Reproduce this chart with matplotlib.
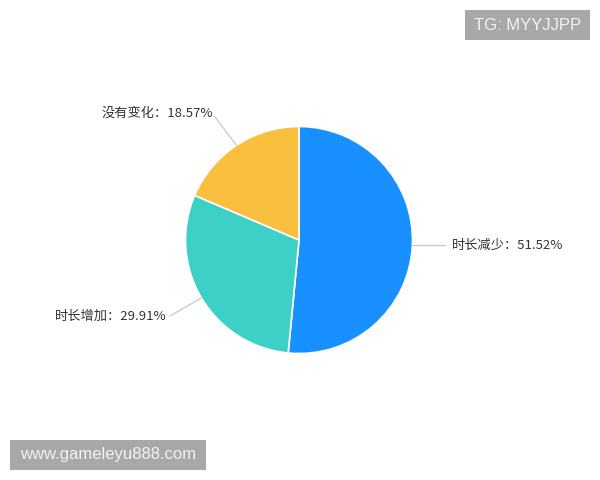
import matplotlib
matplotlib.use("Agg")
import matplotlib.pyplot as plt
from matplotlib.patches import Rectangle
import numpy as np

plt.rcParams['font.family'] = ['Noto Sans CJK SC', 'DejaVu Sans']

# ── Data ────────────────────────────────────────────────────────────────
labels = ["时长减少", "时长增加", "没有变化"]
values = [51.52, 29.91, 18.57]
colors = ["#1890ff", "#3dd0c6", "#fbbf3f"]

# label anchor (image px) and alignment per slice
label_pos = [(452, 245, "left"), (167, 316, "right"), (213, 113, "right")]
elbow = [(445, None), (170, 316), (215, 117)]

W, H = 600, 480
CX, CY, R = 299, 240, 113.5

fig = plt.figure(figsize=(6, 4.8), dpi=100)
fig.patch.set_facecolor("white")
ax = fig.add_axes([0, 0, 1, 1])
ax.set_xlim(0, W)
ax.set_ylim(0, H)
ax.set_aspect("equal")
ax.axis("off")

wedges, _ = ax.pie(values, colors=colors, startangle=90, counterclock=False,
                   center=(CX, H - CY), radius=R, frame=True,
                   wedgeprops=dict(edgecolor="white", linewidth=1.2))
ax.set_xlim(0, W)
ax.set_ylim(0, H)
ax.axis("off")

for w, lab, val, (lx, ly, ha), (ex, ey) in zip(wedges, labels, values, label_pos, elbow):
    mid = np.deg2rad((w.theta1 + w.theta2) / 2)
    px = CX + R * np.cos(mid)
    py = (H - CY) + R * np.sin(mid)
    if ey is None:
        ey_d = py
    else:
        ey_d = H - ey
    ax.plot([px, ex], [py, ey_d], color="#c8c8c8", linewidth=0.9)
    ax.text(lx, H - ly, f"{lab}：{val:.2f}%", ha=ha, va="center",
            fontsize=9.5, color="#333333")

# watermark boxes
ax.add_patch(Rectangle((465, H - 40), 125, 30, facecolor="#a8a8a8", edgecolor="none"))
ax.text(527.5, H - 25, "TG: MYYJJPP", ha="center", va="center",
        fontsize=12, color="#f2f2f2", family="Liberation Sans")
ax.add_patch(Rectangle((10, H - 470), 196, 30, facecolor="#a8a8a8", edgecolor="none"))
ax.text(108, H - 455, "www.gameleyu888.com", ha="center", va="center",
        fontsize=12, color="#f2f2f2", family="Liberation Sans")

fig.savefig("out.png", dpi=100, facecolor="white")
